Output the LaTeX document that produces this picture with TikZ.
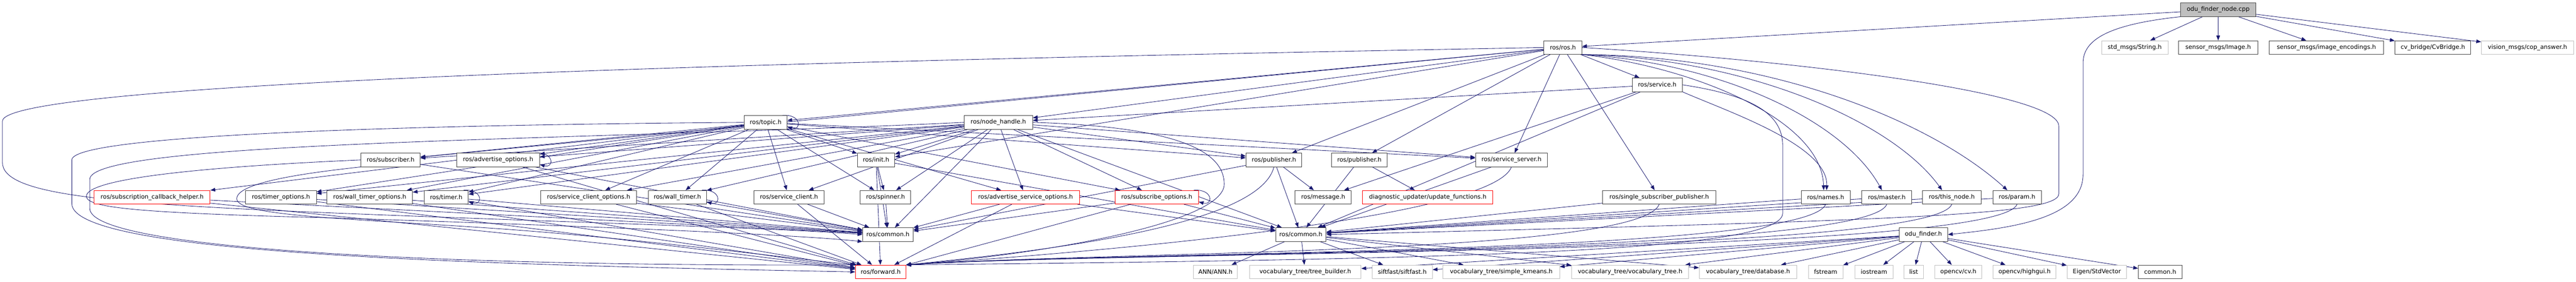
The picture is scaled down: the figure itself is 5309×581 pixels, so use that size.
\documentclass[tikz,border=0pt]{standalone}
\usepackage{fontspec}
\setmainfont{DejaVu Sans}
\usetikzlibrary{arrows.meta}
\definecolor{edgec}{HTML}{191970}
\definecolor{grayb}{HTML}{BFBFBF}
\pgfdeclarelayer{back}
\pgfdeclarelayer{bg}
\pgfsetlayers{back,bg,main}
\newcommand{\sloop}[1]{\draw[dep] ([xshift=-10pt]#1.north east) .. controls ([xshift=30pt,yshift=3pt]#1.north east) and ([xshift=30pt,yshift=-3pt]#1.south east) .. ([yshift=5pt]#1.south east);}
\begin{document}
\begin{tikzpicture}[x=1pt,y=1pt,
  nb/.style={draw=black!75, line width=1pt, minimum height=28pt, inner sep=0pt, font=\fontsize{12.4}{14}\selectfont, text=black, fill=white},
  rb/.style={nb, draw=red},
  gb/.style={nb, draw=grayb},
  dep/.style={draw=edgec, line width=0.9pt, -{Triangle[length=10pt,width=7.5pt]}},
]
\begin{pgfonlayer}{back}
\fill[white] (0,0) rectangle (5309,-581);
\end{pgfonlayer}
\useasboundingbox (0,0) rectangle (5309,-581);
% rank 0
\node[nb,fill=grayb,minimum width=155] (root) at (4571.5,-20) {odu\_finder\_node.cpp};
% rank 1
\node[nb,minimum width=78] (ros) at (3221,-98) {ros/ros.h};
\node[gb,minimum width=137] (stdmsgs) at (4399.5,-98) {std\_msgs/String.h};
\node[nb,minimum width=163] (img) at (4571.5,-98) {sensor\_msgs/Image.h};
\node[nb,minimum width=235] (enc) at (4794.5,-98) {sensor\_msgs/image\_encodings.h};
\node[nb,minimum width=156] (cvb) at (5014,-98) {cv\_bridge/CvBridge.h};
\node[gb,minimum width=190] (cop) at (5209,-98) {vision\_msgs/cop\_answer.h};
% rank 2
\node[nb,minimum width=103] (service) at (3415.5,-175) {ros/service.h};
% rank 3
\node[nb,minimum width=88] (topic) at (1578,-252.5) {ros/topic.h};
\node[nb,minimum width=141] (nh) at (2057.5,-252.5) {ros/node\_handle.h};
% rank 4
\node[nb,minimum width=122] (subscriber) at (805,-330) {ros/subscriber.h};
\node[nb,minimum width=171] (advopt) at (1026.5,-330) {ros/advertise\_options.h};
\node[nb,minimum width=77] (init) at (1805.5,-330) {ros/init.h};
\node[nb,minimum width=115] (pub1) at (2625.5,-330) {ros/publisher.h};
\node[nb,minimum width=115] (pub2) at (2801.5,-330) {ros/publisher.h};
\node[nb,minimum width=148] (srvserver) at (3115,-330) {ros/service\_server.h};
% rank 5
\node[rb,minimum width=239] (sch) at (313.5,-407) {ros/subscription\_callback\_helper.h};
\node[nb,minimum width=146] (timeropt) at (579,-407) {ros/timer\_options.h};
\node[nb,minimum width=176] (wtimeropt) at (762,-407) {ros/wall\_timer\_options.h};
\node[nb,minimum width=91] (timer) at (919.5,-407) {ros/timer.h};
\node[nb,minimum width=198] (scopt) at (1213,-407) {ros/service\_client\_options.h};
\node[nb,minimum width=120] (wtimer) at (1396,-407) {ros/wall\_timer.h};
\node[nb,minimum width=144] (sclient) at (1626,-407) {ros/service\_client.h};
\node[nb,minimum width=104] (spinner) at (1825,-407) {ros/spinner.h};
\node[rb,minimum width=223] (asopt) at (2113.5,-407) {ros/advertise\_service\_options.h};
\node[rb,minimum width=172] (subopt) at (2384,-407) {ros/subscribe\_options.h};
\node[nb,minimum width=116] (message) at (2727,-407) {ros/message.h};
\node[rb,minimum width=269] (upd) at (2942.5,-407) {diagnostic\_updater/update\_functions.h};
\node[nb,minimum width=233] (ssp) at (3419.5,-407) {ros/single\_subscriber\_publisher.h};
\node[nb,minimum width=101] (names) at (3762.5,-407) {ros/names.h};
\node[nb,minimum width=103] (master) at (3888.5,-407) {ros/master.h};
\node[nb,minimum width=121] (thisnode) at (4022.5,-407) {ros/this\_node.h};
\node[nb,minimum width=100] (param) at (4157,-407) {ros/param.h};
% rank 6
\node[nb,minimum width=104] (common1) at (1830,-484) {ros/common.h};
\node[nb,minimum width=104] (common2) at (2681,-484) {ros/common.h};
\node[nb,minimum width=100] (odufinder) at (3964,-484) {odu\_finder.h};
% rank 7
\node[rb,minimum width=104] (forward) at (1815,-561) {ros/forward.h};
\node[gb,minimum width=90] (ann) at (2505,-561) {ANN/ANN.h};
\node[gb,minimum width=230] (treeb) at (2690,-561) {vocabulary\_tree/tree\_builder.h};
\node[gb,minimum width=124] (sift) at (2890,-561) {siftfast/siftfast.h};
\node[gb,minimum width=240] (kmeans) at (3094,-561) {vocabulary\_tree/simple\_kmeans.h};
\node[gb,minimum width=241] (vtree) at (3359.5,-561) {vocabulary\_tree/vocabulary\_tree.h};
\node[gb,minimum width=201] (db) at (3602.5,-561) {vocabulary\_tree/database.h};
\node[gb,minimum width=71] (fstream) at (3762.5,-561) {fstream};
\node[gb,minimum width=78] (iostream) at (3862,-561) {iostream};
\node[gb,minimum width=40] (list) at (3944,-561) {list};
\node[gb,minimum width=96] (cv) at (4036,-561) {opencv/cv.h};
\node[gb,minimum width=129] (highgui) at (4172.5,-561) {opencv/highgui.h};
\node[gb,minimum width=123] (eigen) at (4321.5,-561) {Eigen/StdVector};
\node[nb,minimum width=90] (common) at (4452,-561) {common.h};

\begin{pgfonlayer}{bg}
\foreach \a/\b in {root/ros, root/stdmsgs, root/img, root/enc, root/cvb, root/cop,
  ros/topic, ros/nh, ros/subscriber, ros/init, ros/pub1, ros/pub2, ros/srvserver, ros/service, ros/ssp,
  service/nh, service/message, service/common2,
  topic/subscriber, topic/advopt, topic/timeropt, topic/wtimeropt, topic/timer, topic/scopt, topic/wtimer, topic/sclient, topic/init, topic/pub1, topic/srvserver, topic/asopt, topic/subopt, topic/sch, topic/spinner,
  nh/init, nh/spinner, nh/asopt, nh/subopt, nh/pub1, nh/srvserver, nh/sclient, nh/timer, nh/wtimer, nh/subscriber, nh/advopt, nh/timeropt, nh/wtimeropt, nh/scopt, nh/common1, nh/common2,
  subscriber/common1, advopt/common1, advopt/forward, init/spinner, init/common1, init/forward, init/common2,
  pub1/message, pub1/common1, pub1/common2, pub2/upd, pub2/common2, srvserver/common2,
  sch/common1, sch/forward, timeropt/common1, timeropt/forward, wtimeropt/common1, wtimeropt/forward,
  timer/common1, timer/forward, scopt/common1, scopt/forward, wtimer/common1, wtimer/forward,
  sclient/common1, sclient/forward, spinner/common1, asopt/common1, asopt/forward, asopt/common2, subopt/common1, subopt/forward, subopt/common2,
  ssp/common2, names/common2, master/common2, thisnode/common2, param/common2,
  common2/ann, common2/treeb, common2/sift, common2/kmeans, common2/vtree, common2/db,
  odufinder/treeb, odufinder/sift, odufinder/kmeans, odufinder/vtree, odufinder/db, odufinder/fstream, odufinder/iostream, odufinder/list, odufinder/cv, odufinder/highgui, odufinder/eigen, odufinder/common}
  {\draw[dep] (\a) -- (\b);}
% ros/ros.h and ros/service.h down to the right-hand nodes
\draw[dep] (ros.south east) .. controls (3500,-140) and (3755,-250) .. ([xshift=-4pt]names.north);
\draw[dep] (service.south east) .. controls (3560,-230) and (3768,-300) .. ([xshift=2pt]names.north);
\draw[dep] (ros.south east) .. controls (3550,-130) and (3800,-250) .. ([xshift=-10pt]master.north);
\draw[dep] (ros.south east) .. controls (3600,-120) and (3900,-250) .. ([xshift=-20pt]thisnode.north);
\draw[dep] (ros.south east) .. controls (3650,-115) and (3980,-250) .. ([xshift=-20pt]param.north);
% long connectors from the right side down to ros/forward.h
\foreach \a in {srvserver, ssp, names, master, thisnode, param}
  {\draw[dep] (\a.south) .. controls +(-40,-105) and +(420,28) .. (forward.north east);}
% curved connectors
\draw[dep] (pub1.south) .. controls +(-30,-120) and +(300,30) .. (forward.north east);
\draw[dep] (nh.east) .. controls (2450,-262) and (2523,-320) .. (2523,-380) .. controls (2523,-460) and (2150,-525) .. (forward.north east);
\draw[dep] (root.south west) .. controls (4350,-50) and (4293,-80) .. (4293,-130) -- (4293,-360) .. controls (4293,-450) and (4150,-470) .. (odufinder.east);
\draw[dep] (ros.east) .. controls (3700,-125) and (4243,-190) .. (4243,-260) -- (4243,-400) .. controls (4243,-445) and (3900,-455) .. (common2.east);
\draw[dep] (service.east) .. controls (3600,-195) and (3674,-230) .. (3674,-300) -- (3674,-440) .. controls (3674,-520) and (3000,-535) .. (forward.north east);
\draw[dep] (ros.west) .. controls (2000,-120) and (5,-160) .. (5,-250) -- (5,-335) .. controls (5,-400) and (200,-420) .. (700,-440) .. controls (1200,-460) and (1600,-470) .. (common1.west);
\draw[dep] (topic.west) .. controls (800,-258) and (148,-280) .. (148,-330) -- (148,-420) .. controls (148,-520) and (900,-545) .. (forward.west);
\draw[dep] (nh.west) .. controls (1200,-290) and (185,-290) .. (185,-370) -- (185,-430) .. controls (185,-520) and (1000,-550) .. (forward.north west);
\draw[dep] (subscriber.west) .. controls (400,-345) and (178,-370) .. (178,-405) .. controls (178,-430) and (300,-440) .. (700,-450) .. controls (1000,-460) and (1600,-480) .. (common1.south west);
\draw[dep] (subscriber.south west) .. controls (600,-360) and (488,-380) .. (488,-410) .. controls (488,-445) and (700,-450) .. (1000,-470) .. controls (1300,-490) and (1600,-530) .. (forward.north west);
\sloop{topic}
\sloop{advopt}
\sloop{timer}
\sloop{wtimer}
\sloop{subopt}
\end{pgfonlayer}
\end{tikzpicture}
\end{document}
